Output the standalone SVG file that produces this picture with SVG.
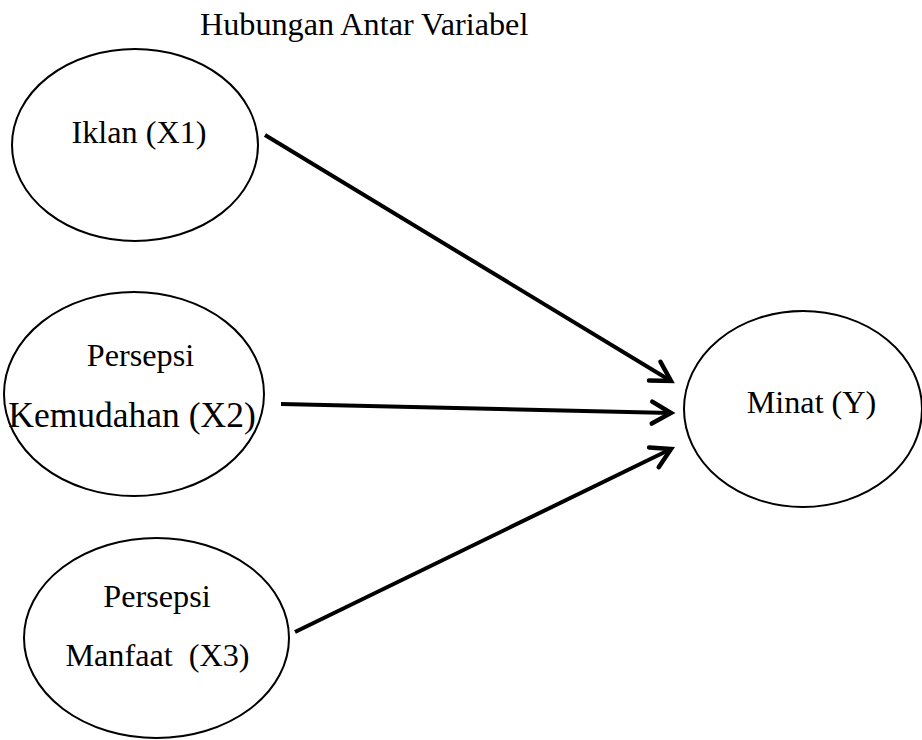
<svg xmlns="http://www.w3.org/2000/svg" width="922" height="740" viewBox="0 0 922 740">
<style>
.node ellipse{fill:#fff;stroke:#000;stroke-width:2}
text{font-family:"Liberation Serif","Times New Roman",serif;font-size:32.2px;fill:#000}
.node text{text-anchor:middle}
.edge{stroke:#000;stroke-width:4;fill:none;marker-end:url(#arr)}
</style>
<defs>
<marker id="arr" markerUnits="userSpaceOnUse" markerWidth="40" markerHeight="40" viewBox="-30 -20 40 40" refX="0" refY="0" orient="auto">
<path d="M-19,-11 L0,0 L-19,11" fill="none" stroke="#000" stroke-width="4.5" stroke-linecap="round" stroke-linejoin="miter"/>
</marker>
</defs>
<rect width="922" height="740" fill="#fff"/>
<text id="title" x="200" y="35">Hubungan Antar Variabel</text>
<g id="x1" class="node">
<ellipse cx="135" cy="145" rx="123" ry="96"/>
<text x="139" y="143">Iklan (X1)</text>
</g>
<g id="x2" class="node">
<ellipse cx="134" cy="394" rx="130" ry="102"/>
<text x="140.5" y="366">Persepsi</text>
<text x="132" y="427" style="font-size:35.5px">Kemudahan (X2)</text>
</g>
<g id="x3" class="node">
<ellipse cx="156.5" cy="638" rx="132.5" ry="100"/>
<text x="157" y="607">Persepsi</text>
<text x="157.5" y="666" xml:space="preserve">Manfaat  (X3)</text>
</g>
<g id="y" class="node">
<ellipse cx="803" cy="409" rx="119" ry="98"/>
<text x="811.5" y="413">Minat (Y)</text>
</g>
<g id="connectors">
<line class="edge" x1="265" y1="135" x2="671" y2="381"/>
<line class="edge" x1="281" y1="404" x2="671" y2="413"/>
<line class="edge" x1="295" y1="632" x2="671" y2="449"/>
</g>
</svg>
